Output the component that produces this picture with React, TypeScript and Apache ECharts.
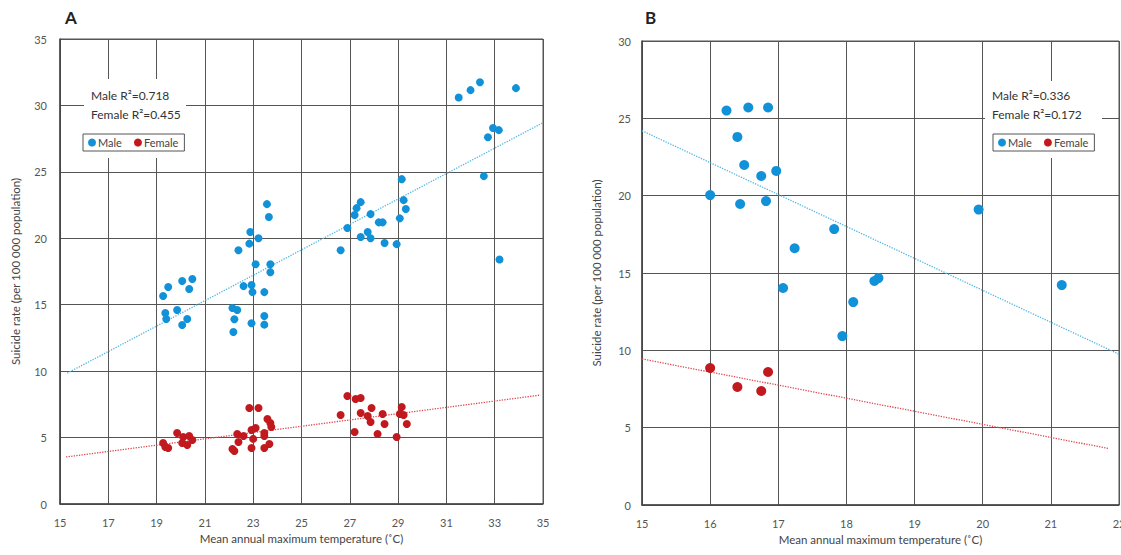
import React, { useEffect, useRef } from "react";
import * as echarts from "echarts";

// Panel A data (temperature °C, suicide rate per 100 000)
const maleA: number[][] = [
  [31.51, 30.6], [32.0, 31.15], [32.39, 31.75], [33.88, 31.3], [32.93, 28.3], [33.17, 28.14], [32.72, 27.6], [32.55, 24.68], [33.2, 18.4],
  [29.15, 24.45], [29.23, 22.87], [29.32, 22.2], [29.07, 21.5],
  [27.45, 22.72], [27.28, 22.27], [27.2, 21.75], [27.86, 21.82], [28.2, 21.2], [28.36, 21.2], [26.9, 20.77], [27.74, 20.47], [27.45, 20.1], [27.86, 20.0], [28.44, 19.64], [28.94, 19.56], [26.62, 19.1],
  [22.88, 20.47], [23.22, 20.0], [22.84, 19.6], [22.39, 19.1], [23.57, 22.57], [23.65, 21.6], [23.1, 18.05], [23.71, 18.05], [23.71, 17.45], [22.6, 16.4], [22.93, 16.48], [22.97, 15.95], [23.46, 15.95], [22.14, 14.75], [22.34, 14.6], [22.22, 13.9], [22.93, 13.6], [23.46, 14.15], [23.46, 13.5], [22.18, 12.94],
  [19.27, 15.65], [19.48, 16.33], [20.06, 16.78], [20.48, 16.93], [20.35, 16.18], [19.36, 14.37], [19.4, 13.92], [19.85, 14.6], [20.27, 13.92], [20.06, 13.47],
];
const femaleA: number[][] = [
  [19.27, 4.59], [19.36, 4.29], [19.48, 4.21], [19.85, 5.34], [20.1, 5.04], [20.35, 5.12], [20.48, 4.82], [20.06, 4.59], [20.27, 4.44],
  [22.84, 7.22], [23.22, 7.22], [23.59, 6.4], [23.71, 6.1], [23.75, 5.8], [23.1, 5.72], [22.93, 5.57], [23.46, 5.34], [23.46, 5.12], [22.34, 5.27], [22.6, 5.12], [23.0, 4.9], [22.39, 4.67], [22.14, 4.14], [22.22, 3.99], [22.93, 4.21], [23.46, 4.21], [23.67, 4.52],
  [26.9, 8.13], [27.24, 7.9], [27.45, 7.98], [26.62, 6.7], [27.45, 6.85], [27.74, 6.62], [27.9, 7.22], [28.36, 6.77], [27.86, 6.17], [28.44, 6.02], [27.2, 5.42], [28.15, 5.27], [29.15, 7.3], [29.07, 6.77], [29.23, 6.7], [29.36, 6.02], [28.94, 5.04],
];
const maleTrendA: number[][] = [[15.3, 9.85], [35, 28.7]];
const femaleTrendA: number[][] = [[15.25, 3.54], [34.9, 8.2]];

// Panel B data
const maleB: number[][] = [
  [16.24, 25.5], [16.56, 25.7], [16.85, 25.7], [16.4, 23.8], [16.5, 21.98], [16.75, 21.27], [16.97, 21.6], [16.0, 20.04], [16.44, 19.46], [16.82, 19.65],
  [17.82, 17.84], [17.24, 16.6], [17.07, 14.03], [18.1, 13.12], [17.94, 10.92], [18.41, 14.48], [18.47, 14.67], [21.16, 14.22], [19.94, 19.1],
];
const femaleB: number[][] = [[16.0, 8.86], [16.4, 7.63], [16.75, 7.37], [16.85, 8.6]];
const maleTrendB: number[][] = [[15, 24.2], [22, 9.75]];
const femaleTrendB: number[][] = [[15, 9.44], [21.85, 3.65]];

const r2Labels = {
  A: ["Male R\u00b2=0.718", "Female R\u00b2=0.455"],
  B: ["Male R\u00b2=0.336", "Female R\u00b2=0.172"],
};
const yTitle = "Suicide rate (per 100 000 population)";
const xTitle = "Mean annual maximum temperature (\u02daC)";

const BLUE = "#1192d8";
const RED = "#c1191e";
const BLUE_LINE = "#4fb6e4";
const RED_LINE = "#e0474c";
const FONT = "Lato";

export default function App() {
  const ref = useRef<HTMLDivElement>(null);
  useEffect(() => {
    if (!ref.current) return;
    const chart = echarts.init(ref.current, null, { renderer: "svg" });
    const axisLabel = { color: "#555", fontSize: 11, fontFamily: FONT };
    const nameStyle = { color: "#444", fontSize: 11.5, fontFamily: FONT };
    const splitLine = { show: true, lineStyle: { color: "#555", width: 1 } };
    const axisLine = { show: true, lineStyle: { color: "#444", width: 1.5 } };
    const mkX = (gi: number, min: number, max: number, interval: number) => ({
      type: "value", gridIndex: gi, min, max, interval,
      axisLabel: { ...axisLabel, margin: 13 }, axisTick: { show: false },
      axisLine, splitLine, name: xTitle, nameLocation: "middle", nameGap: 28, nameTextStyle: nameStyle,
    });
    const mkY = (gi: number, max: number, margin: number, gap: number) => ({
      type: "value", gridIndex: gi, min: 0, max, interval: 5,
      axisLabel: { ...axisLabel, margin }, axisTick: { show: false },
      axisLine, splitLine, name: yTitle, nameLocation: "middle", nameGap: gap, nameTextStyle: nameStyle,
    });
    const scatter = (name: string, data: number[][], idx: number, color: string, size: number) => ({
      name, type: "scatter", xAxisIndex: idx, yAxisIndex: idx, data, symbolSize: size,
      itemStyle: { color, opacity: 1 }, z: 3,
    });
    const trend = (name: string, data: number[][], idx: number, color: string) => ({
      name, type: "line", xAxisIndex: idx, yAxisIndex: idx, data, symbol: "none",
      lineStyle: { color, width: 1.3, type: "dotted" }, z: 2, silent: true,
    });
    const legend = (left: number) => ({
      data: ["Male", "Female"], left, top: 134, orient: "horizontal",
      icon: "circle", itemWidth: 8, itemHeight: 8, itemGap: 12,
      borderColor: "#555", borderWidth: 1, padding: [3, 6, 3, 5],
      textStyle: { color: "#444", fontSize: 11, fontFamily: FONT, padding: [0, 0, 0, -3] },
      backgroundColor: "#fff", z: 6,
    });
    const annot = (x: number, y: number, w: number, h: number, tx: number, lines: string[]) => [
      { type: "rect", left: x, top: y, shape: { width: w, height: h }, style: { fill: "#fff" }, z: 3 },
      { type: "text", left: tx, top: 89, style: { text: lines[0], fill: "#333", fontSize: 12, fontFamily: FONT }, z: 5 },
      { type: "text", left: tx, top: 108, style: { text: lines[1], fill: "#333", fontSize: 12, fontFamily: FONT }, z: 5 },
    ];
    chart.setOption({
      animation: false,
      grid: [
        { left: 60, top: 39, width: 483, height: 465, show: true, borderColor: "#555", borderWidth: 1, outerBoundsMode: "none", containLabel: false },
        { left: 642, top: 41, width: 477, height: 464, show: true, borderColor: "#555", borderWidth: 1, outerBoundsMode: "none", containLabel: false },
      ],
      xAxis: [mkX(0, 15, 35, 2), mkX(1, 15, 22, 1)],
      yAxis: [mkY(0, 35, 13, 39), mkY(1, 30, 11, 40)],
      legend: [legend(83), legend(993)],
      graphic: [
        ...annot(84, 79, 102, 79, 91, r2Labels.A),
        ...annot(985, 81, 117, 77, 992, r2Labels.B),
        { type: "text", left: 65, top: 9, style: { text: "A", fill: "#222", fontSize: 17, fontWeight: "bold", fontFamily: FONT }, z: 5 },
        { type: "text", left: 645, top: 9, style: { text: "B", fill: "#222", fontSize: 17, fontWeight: "bold", fontFamily: FONT }, z: 5 },
      ],
      series: [
        scatter("Male", maleA, 0, BLUE, 8),
        scatter("Female", femaleA, 0, RED, 8),
        trend("Male trend A", maleTrendA, 0, BLUE_LINE),
        trend("Female trend A", femaleTrendA, 0, RED_LINE),
        scatter("Male", maleB, 1, BLUE, 10),
        scatter("Female", femaleB, 1, RED, 10),
        trend("Male trend B", maleTrendB, 1, BLUE_LINE),
        trend("Female trend B", femaleTrendB, 1, RED_LINE),
      ],
    });
    return () => chart.dispose();
  }, []);
  return <div ref={ref} style={{ position: "fixed", left: 0, top: 0, width: 1121, height: 555, background: "#fff" }} />;
}
